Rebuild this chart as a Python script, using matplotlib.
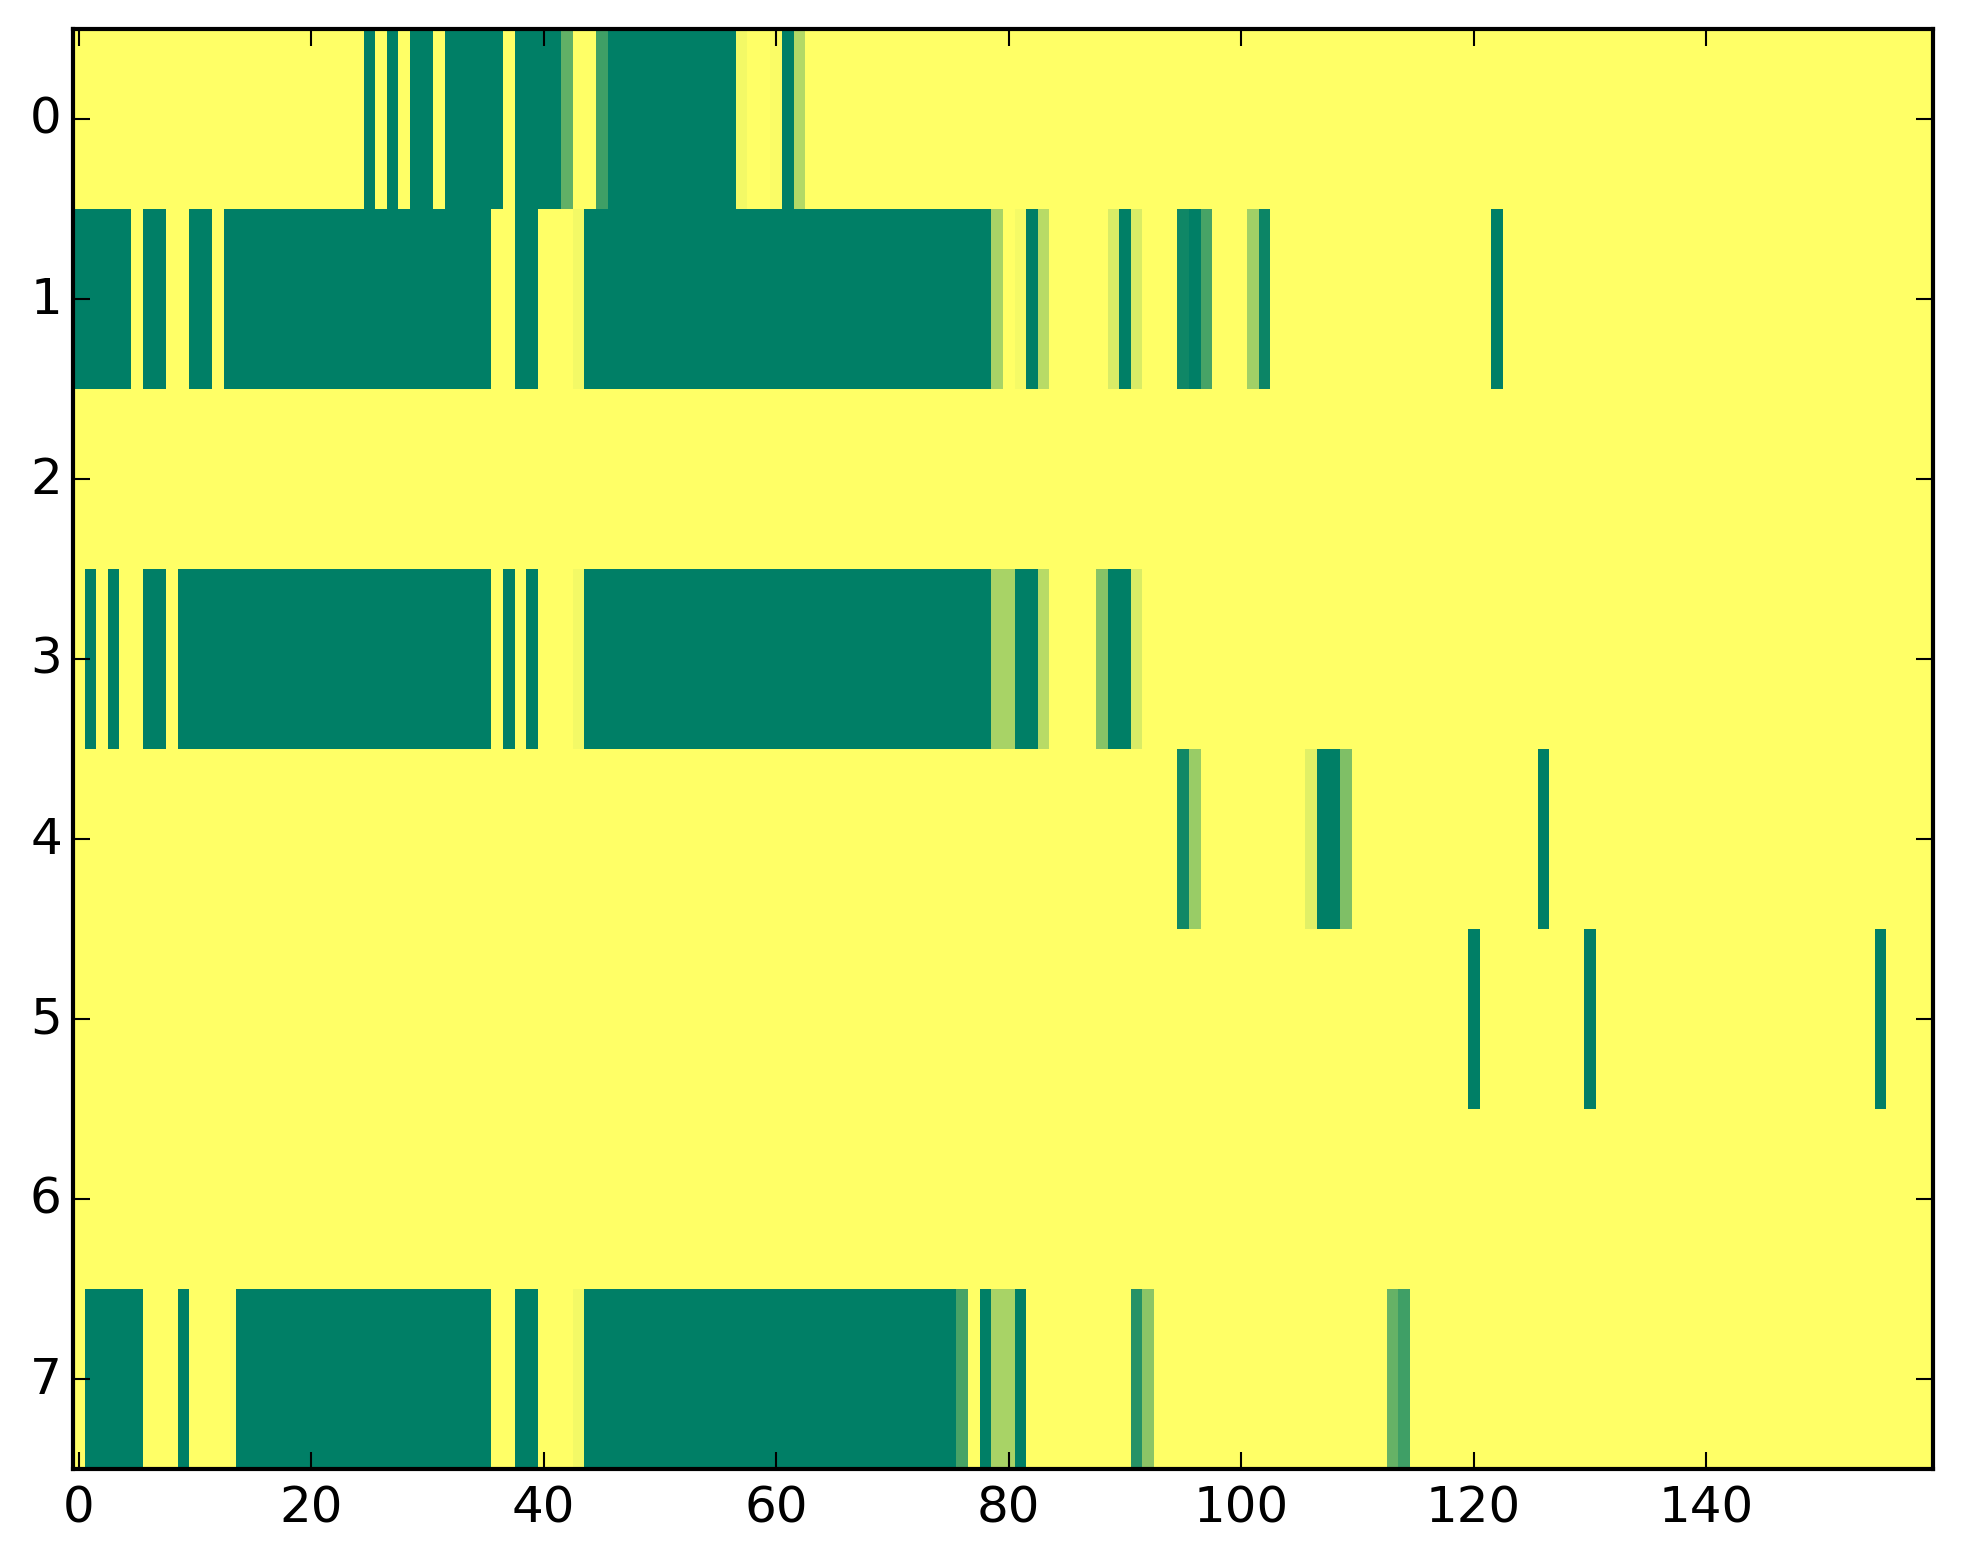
import numpy as np
import matplotlib
matplotlib.use('Agg')
import matplotlib.pyplot as plt

# tamaño de la matriz: filas x columnas
n_filas = 8
n_cols = 160

# cada fila: lista de tramos (col_inicio, col_fin, valor), el resto vale 0
fila0 = [(25, 25, 1.0), (27, 27, 1.0), (29, 30, 1.0), (32, 36, 1.0), (38, 41, 1.0),
         (42, 42, 0.62), (45, 45, 0.75), (46, 56, 1.0), (57, 57, 0.05), (60, 60, 0.02),
         (61, 61, 1.0), (62, 62, 0.3)]
fila1 = [(0, 4, 1.0), (6, 7, 1.0), (10, 11, 1.0), (13, 35, 1.0), (38, 39, 1.0),
         (43, 43, 0.05), (44, 78, 1.0), (79, 79, 0.34), (81, 81, 0.04), (82, 82, 1.0),
         (83, 83, 0.28), (89, 89, 0.15), (90, 90, 1.0), (91, 91, 0.15), (95, 95, 0.94),
         (96, 96, 1.0), (97, 97, 0.72), (101, 101, 0.37), (102, 102, 0.95), (122, 122, 1.0)]
fila2 = []
fila3 = [(1, 1, 1.0), (3, 3, 1.0), (6, 7, 1.0), (9, 35, 1.0), (37, 37, 1.0), (39, 39, 1.0),
         (43, 43, 0.05), (44, 78, 1.0), (79, 80, 0.34), (81, 82, 1.0), (83, 83, 0.28),
         (88, 88, 0.47), (89, 90, 1.0), (91, 91, 0.15)]
fila4 = [(95, 95, 0.93), (96, 96, 0.4), (106, 106, 0.12), (107, 108, 1.0), (109, 109, 0.5),
         (126, 126, 1.0)]
fila5 = [(120, 120, 1.0), (130, 130, 1.0), (155, 155, 1.0)]
fila6 = []
fila7 = [(1, 5, 1.0), (9, 9, 1.0), (14, 35, 1.0), (38, 39, 1.0), (43, 43, 0.05),
         (44, 75, 1.0), (76, 76, 0.72), (78, 78, 1.0), (79, 80, 0.34), (81, 81, 1.0),
         (91, 91, 0.85), (92, 92, 0.45), (113, 113, 0.6), (114, 114, 0.75)]

filas = [fila0, fila1, fila2, fila3, fila4, fila5, fila6, fila7]

xticks = [0, 20, 40, 60, 80, 100, 120, 140]
yticks = list(range(n_filas))

# armo la matriz a partir de los tramos
matriz = np.zeros((n_filas, n_cols))
for i, fila in enumerate(filas):
    for a, b, v in fila:
        matriz[i, a:b + 1] = v

plt.style.use('classic')
fig = plt.figure(figsize=(8, 6), dpi=300)
ax = fig.add_subplot(111)
ax.imshow(matriz, cmap='summer_r', vmin=0, vmax=1, aspect='auto', interpolation='nearest')
ax.set_xticks(xticks)
ax.set_yticks(yticks)
ax.set_xlim(-0.5, n_cols - 0.5)
ax.set_ylim(n_filas - 0.5, -0.5)
ax.tick_params(axis='y', pad=2.6)
ax.tick_params(axis='x', pad=3.5)
fig.savefig('out.png', dpi=300, bbox_inches='tight')
